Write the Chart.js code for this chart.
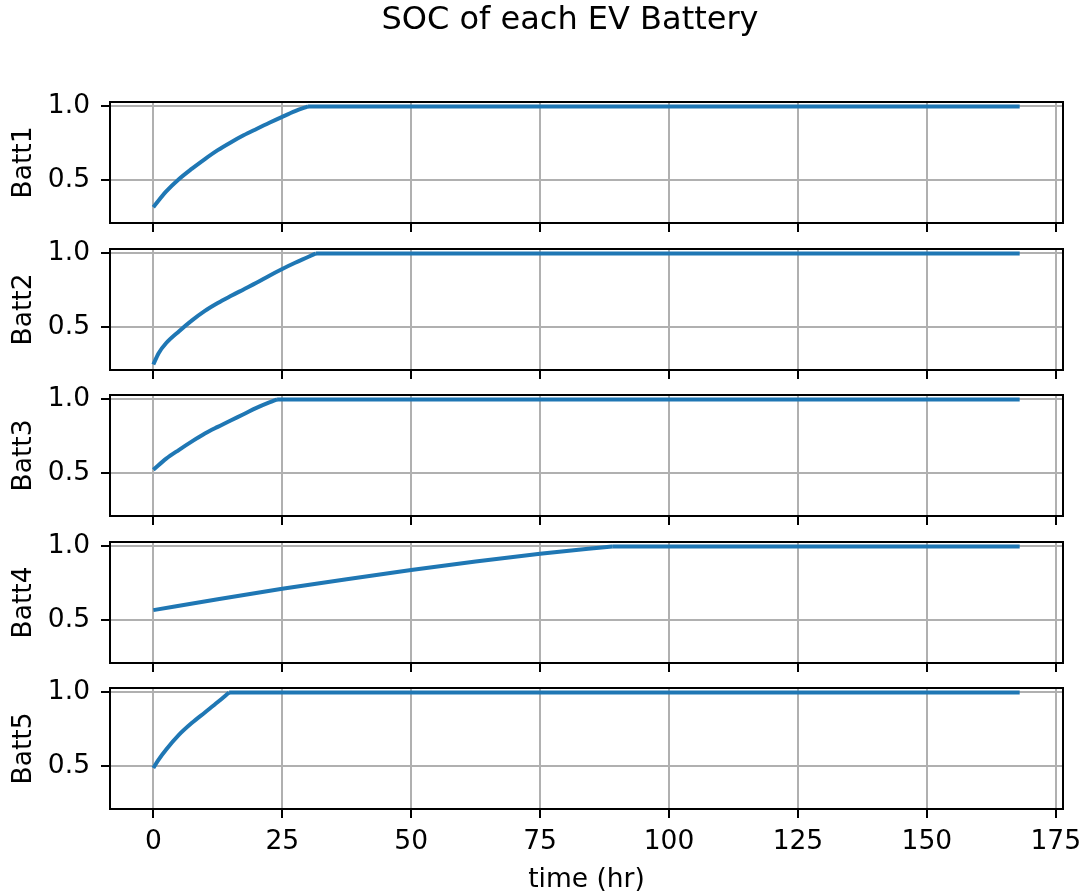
<!DOCTYPE html>
<html>
<head>
<meta charset="utf-8">
<script src="https://cdn.jsdelivr.net/npm/chart.js@4"></script>
<style>
  body { margin: 0; background: #fff; }
  #fig { position: relative; width: 1081px; height: 894px; overflow: hidden; }
  #fig canvas { position: absolute; left: 0; }
</style>
</head>
<body>
<div id="fig"></div>
<script>
// values (hours, state of charge)
const batt1Hours = [0, 2.5, 5, 7.5, 10, 12.5, 15, 17.5, 20, 22.5, 25, 27.5, 30, 168];
const batt1Soc   = [0.32, 0.426, 0.51, 0.58, 0.645, 0.705, 0.757, 0.805, 0.848, 0.89, 0.93, 0.968, 1.0, 1.0];

const batt2Hours = [0, 1, 2.5, 5, 7.5, 10, 12.5, 15, 17.5, 20, 22.5, 25, 27.5, 30, 31.5, 168];
const batt2Soc   = [0.25, 0.325, 0.395, 0.475, 0.548, 0.612, 0.665, 0.712, 0.757, 0.802, 0.85, 0.895, 0.937, 0.976, 1.0, 1.0];

const batt3Hours = [0, 2.5, 5, 7.5, 10, 12.5, 15, 17.5, 20, 22.5, 24, 168];
const batt3Soc   = [0.525, 0.60, 0.66, 0.717, 0.77, 0.815, 0.858, 0.90, 0.943, 0.98, 1.0, 1.0];

const batt4Hours = [0, 12.5, 25, 37.5, 50, 62.5, 75, 89, 168];
const batt4Soc   = [0.57, 0.643, 0.714, 0.779, 0.841, 0.898, 0.95, 1.0, 1.0];

const batt5Hours = [0, 1, 2.5, 5, 7.5, 10, 12.5, 14.7, 168];
const batt5Soc   = [0.49, 0.545, 0.615, 0.715, 0.795, 0.865, 0.935, 1.0, 1.0];

const battLabels = ['Batt1', 'Batt2', 'Batt3', 'Batt4', 'Batt5'];
const xTicks = [0, 25, 50, 75, 100, 125, 150, 175];
const yTicks = [0.5, 1.0];

const series = [
  [batt1Hours, batt1Soc],
  [batt2Hours, batt2Soc],
  [batt3Hours, batt3Soc],
  [batt4Hours, batt4Soc],
  [batt5Hours, batt5Soc]
];

// figure layout (px)
const W = 1081, H = 894;
const AX_LEFT = 110, AX_RIGHT = 1063, AX_H = 121;
const axTops = [102, 249, 395, 542, 688];
const FONT = 'DejaVu Sans';
const FS = 26.5;

// black box round each axes, like matplotlib spines
const frame = {
  id: 'frame',
  afterDraw(c) {
    const a = c.chartArea, ctx = c.ctx;
    ctx.save();
    ctx.strokeStyle = '#000';
    ctx.lineWidth = 2;
    ctx.strokeRect(a.left, a.top, a.right - a.left, a.bottom - a.top);
    ctx.restore();
  }
};

// figure title drawn on the first chart
const suptitle = {
  id: 'suptitle',
  afterDraw(c, args, opts) {
    if (!opts.text) return;
    const ctx = c.ctx;
    ctx.save();
    ctx.font = opts.size + 'px "' + FONT + '"';
    ctx.fillStyle = '#000';
    ctx.textAlign = 'center';
    ctx.textBaseline = 'middle';
    ctx.fillText(opts.text, opts.x, opts.y);
    ctx.restore();
  }
};

const fig = document.getElementById('fig');

series.forEach(([hours, soc], i) => {
  const last = i === series.length - 1;
  const top = i === 0 ? 0 : axTops[i] - 20;
  const padTop = axTops[i] - top;
  const xH = last ? H - (axTops[i] + AX_H) : 20;
  const cv = document.createElement('canvas');
  cv.width = W;
  cv.height = padTop + AX_H + xH;
  cv.style.top = top + 'px';
  fig.appendChild(cv);

  // charging part is smoothed, the flat part after full charge is kept straight
  const pts = hours.map((t, k) => ({ x: t, y: soc[k] }));
  const full = soc.indexOf(1.0);
  const lineStyle = { borderColor: '#1f77b4', borderWidth: 4, pointRadius: 0, fill: false };

  new Chart(cv, {
    type: 'line',
    data: {
      datasets: [
        Object.assign({ data: pts.slice(0, full + 1), cubicInterpolationMode: 'monotone' }, lineStyle),
        Object.assign({ data: pts.slice(full), tension: 0 }, lineStyle)
      ]
    },
    options: {
      responsive: false,
      animation: false,
      events: [],
      layout: { padding: { top: padTop, right: W - AX_RIGHT, bottom: 0, left: 0 } },
      plugins: {
        legend: { display: false },
        tooltip: { enabled: false },
        suptitle: i === 0 ? { text: 'SOC of each EV Battery', x: 570, y: 21, size: 32 } : {}
      },
      scales: {
        x: {
          type: 'linear',
          min: -8.4,
          max: 176.4,
          afterBuildTicks: s => { s.ticks = xTicks.map(v => ({ value: v })); },
          afterFit: s => { s.height = xH; s.paddingLeft = 0; s.paddingRight = 0; },
          grid: { color: '#b0b0b0', lineWidth: 2, tickColor: '#000', tickWidth: 2, tickLength: 9 },
          border: { display: false },
          ticks: {
            display: last,
            padding: 8,
            color: '#000',
            maxRotation: 0,
            autoSkip: false,
            font: { family: FONT, size: FS }
          },
          title: {
            display: last,
            text: 'time (hr)',
            color: '#000',
            padding: { top: 0, bottom: 0 },
            font: { family: FONT, size: FS, lineHeight: 1.05 }
          }
        },
        y: {
          min: 0.213,
          max: 1.03,
          afterBuildTicks: s => { s.ticks = yTicks.map(v => ({ value: v })); },
          afterFit: s => { s.width = AX_LEFT; s.paddingTop = 0; s.paddingBottom = 0; },
          grid: { color: '#b0b0b0', lineWidth: 2, tickColor: '#000', tickWidth: 2, tickLength: 9 },
          border: { display: false },
          ticks: {
            padding: 11,
            color: '#000',
            callback: v => v.toFixed(1),
            font: { family: FONT, size: FS }
          },
          title: {
            display: true,
            text: battLabels[i],
            color: '#000',
            padding: { top: 8, bottom: 0 },
            font: { family: FONT, size: FS }
          }
        }
      }
    },
    plugins: [frame, suptitle]
  });
});
</script>
</body>
</html>
